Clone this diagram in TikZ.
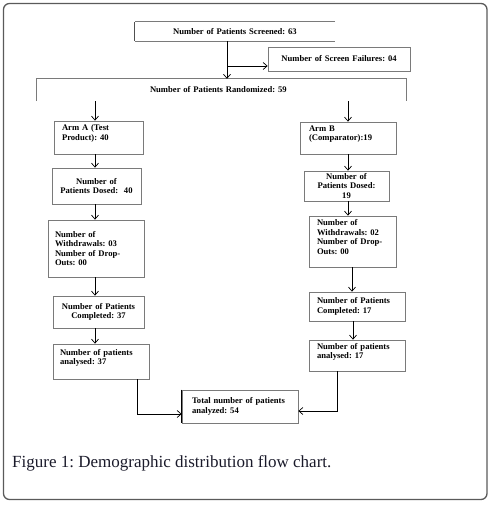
\documentclass[tikz,border=0pt]{standalone}
\usepackage{fontspec}
\setmainfont{Liberation Serif}
\usetikzlibrary{arrows.meta}
\definecolor{boxgray}{HTML}{7A7A7A}
\definecolor{edgedark}{HTML}{505050}
\definecolor{capcol}{HTML}{1A1A2A}
\definecolor{framecol}{HTML}{5A5A5A}
\frenchspacing
\begin{document}
\begin{tikzpicture}[x=1pt,y=-1pt,
  bx/.style={rectangle, draw=boxgray, line width=0.7pt, inner ysep=0pt,
    font=\fontsize{8.6}{9.5}\selectfont\bfseries},
  open/.style={rectangle, draw=none, inner ysep=0pt,
    font=\fontsize{8.6}{9.5}\selectfont\bfseries},
  edge/.style={draw=boxgray, line width=0.7pt},
  arr/.style={-{Straight Barb[length=4pt,width=7pt]}, line width=0.7pt, black}]
\useasboundingbox (0,0) rectangle (491,505);
\draw[framecol, line width=1.3pt, rounded corners=6pt] (3.5,3.5) rectangle (487,499.5);

% top part
\node[open, minimum width=200, minimum height=19, text width=180, inner xsep=10, align=center]
  (scr) at (235,31.5) {Number of Patients Screened: 63};
\draw[edge] (scr.north east) -- (scr.north west);
\draw[edgedark, line width=0.7pt] (scr.north west) -- (scr.south west);
\draw[edge] (scr.south west) -- (scr.south east);

\node[bx, minimum width=142, minimum height=24, text width=132, inner xsep=5, align=center]
  (fail) at (339,59) {Number of Screen Failures: 04};

\node[open, minimum width=369, minimum height=22, text width=143, inner xsep=113, align=left]
  (rand) at (221.5,90) {Number of Patients Randomized: 59};
\draw[edge] (rand.south west) -- (rand.north west) -- (rand.north east) -- (rand.south east);

% arm A
\node[bx, minimum width=89, minimum height=33, text width=73, inner xsep=8, align=left]
  (armA) at (98.5,137.5) {Arm A (Test\\Product): 40\\ \mbox{}};
\node[bx, minimum width=89, minimum height=36, text width=79, inner xsep=5, align=center]
  (dosA) at (96.5,186) {Number of\\Patients Dosed:~~40};
\node[bx, minimum width=96, minimum height=57, text width=82, inner xsep=7, align=left]
  (wdA) at (96,248.5) {Number of\\Withdrawals: 03\\Number of Drop-\\Outs: 00};
\node[bx, minimum width=91, minimum height=32, text width=85, inner xsep=3, align=center]
  (cmpA) at (98.5,312) {Number of Patients\\Completed: 37};
\node[bx, minimum width=96, minimum height=35, text width=82, inner xsep=7, align=left]
  (anA) at (101,361.5) {Number of patients\\analysed: 37\\ \mbox{}};

% arm B
\node[bx, minimum width=96, minimum height=32, text width=78, inner xsep=9, align=left]
  (armB) at (348,138) {Arm B\\(Comparator):19\\ \mbox{}};
\node[bx, minimum width=85, minimum height=30, text width=81, inner xsep=2, align=center]
  (dosB) at (346.5,186) {Number of\\Patients Dosed:\\19};
\node[bx, minimum width=87, minimum height=51, text width=71, inner xsep=8, align=left]
  (wdB) at (352.5,241.5) {Number of\\Withdrawals: 02\\Number of Drop-\\Outs: 00\\ \mbox{}};
\node[bx, minimum width=96, minimum height=29, text width=80, inner xsep=8, align=left]
  (cmpB) at (357,306.5) {Number of Patients\\Completed: 17};
\node[bx, minimum width=96, minimum height=31, text width=80, inner xsep=8, align=left]
  (anB) at (357,355.5) {Number of patients\\analysed: 17\\ \mbox{}};

% total
\node[bx, minimum width=116, minimum height=33, text width=96, inner xsep=10, align=left]
  (tot) at (240,406.5) {Total number of patients\\analyzed: 54};
\draw[black, line width=1pt] (tot.north west) -- (tot.south west);

% column coordinates
\coordinate (cS) at (227,0);
\coordinate (cA) at (95,0);
\coordinate (cB) at (348,0);
\coordinate (cB2) at (352,0);
\coordinate (cB3) at (353,0);
\coordinate (br) at (227,66);
\coordinate (jA) at (137,414);
\coordinate (jB) at (337,411);

% connectors
\draw[arr] (scr.south -| cS) -- (rand.north -| cS);
\draw[arr] (br) -- (br -| fail.west);
\draw[arr] (rand.south -| cA) -- (armA.north -| cA);
\draw[arr] (rand.south -| cB) -- (armB.north -| cB);
\draw[arr] (armA.south -| cA) -- (dosA.north -| cA);
\draw[arr] (dosA.south -| cA) -- (wdA.north -| cA);
\draw[arr] (wdA.south -| cA) -- (cmpA.north -| cA);
\draw[arr] (cmpA.south -| cA) -- (anA.north -| cA);
\draw[arr] (armB.south -| cB) -- (dosB.north -| cB);
\draw[arr] (dosB.south -| cB) -- (wdB.north -| cB);
\draw[arr] (wdB.south -| cB2) -- (cmpB.north -| cB2);
\draw[arr] (cmpB.south -| cB3) -- (anB.north -| cB3);
\draw[arr] (anA.south -| jA) -- (jA) -- (jA -| tot.west);
\draw[arr] (anB.south -| jB) -- (jB) -- (jB -| tot.east);

% caption
\node[anchor=base west, inner sep=0pt, text=capcol, font=\fontsize{17}{19}\selectfont]
  (cap) at (12,467) {Figure 1: Demographic distribution flow chart.};
\end{tikzpicture}
\end{document}
